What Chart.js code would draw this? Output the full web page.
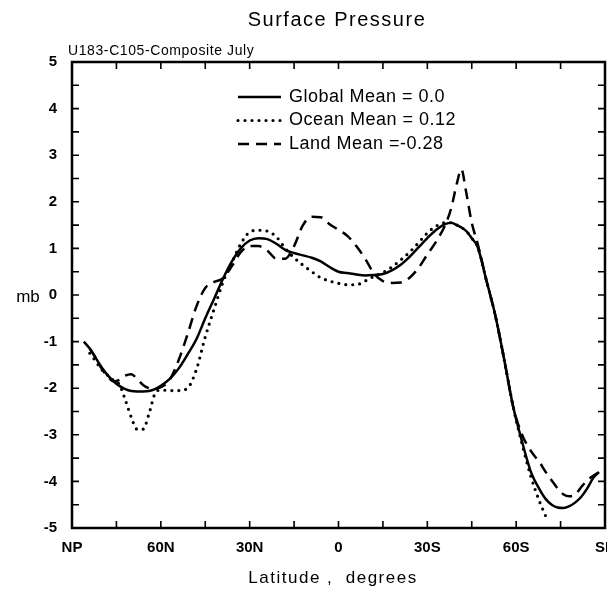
<!DOCTYPE html>
<html>
<head>
<meta charset="utf-8">
<script src="https://cdn.jsdelivr.net/npm/chart.js@4"></script>
<style>
  body { margin: 0; background: #fff; }
  #wrap { width: 607px; height: 590px; position: relative; }
</style>
</head>
<body>
<div id="wrap"><canvas id="psChart"></canvas></div>
<script>
// latitude in degrees, NP = 90, SP = -90
const latitudes = [86, 84, 82, 80, 78, 76, 74, 72, 70, 68,
  66, 64, 62, 60, 57, 54, 51, 48, 45, 42,
  39, 36, 33, 30, 27, 24, 21, 18, 15, 12,
  9, 6, 3, 0, -3, -6, -9, -12, -15, -18,
  -21, -24, -27, -30, -33, -36, -38, -40, -41.5, -43,
  -45, -47, -50, -53, -56, -59, -62, -65, -68, -70,
  -72, -74, -76, -78, -80, -82, -84, -86, -88];

const globalMean = [-1.0, -1.15, -1.35, -1.55, -1.72, -1.85, -1.95, -2.02, -2.06, -2.07,
  -2.07, -2.06, -2.02, -1.95, -1.8, -1.58, -1.28, -0.95, -0.5, -0.08,
  0.35, 0.72, 1.0, 1.17, 1.22, 1.2, 1.1, 0.97, 0.9, 0.85,
  0.8, 0.72, 0.6, 0.5, 0.47, 0.44, 0.42, 0.43, 0.45, 0.53,
  0.65, 0.82, 1.02, 1.22, 1.4, 1.52, 1.55, 1.5, 1.45, 1.38,
  1.22, 1.03, 0.3, -0.45, -1.4, -2.4, -3.15, -3.8, -4.18, -4.38,
  -4.5, -4.56, -4.57, -4.53, -4.45, -4.33, -4.15, -3.93, -3.8];

const oceanMean = [null, -1.25, -1.42, -1.6, -1.72, -1.83, -1.92, -2.25, -2.62, -2.88,
  -2.88, -2.55, -2.12, -2.04, -2.05, -2.05, -2.0, -1.6, -0.9, -0.3,
  0.28, 0.7, 1.1, 1.35, 1.39, 1.37, 1.25, 1.0, 0.8, 0.64,
  0.5, 0.37, 0.3, 0.25, 0.22, 0.22, 0.3, 0.4, 0.48, 0.6,
  0.75, 0.92, 1.12, 1.33, 1.48, 1.55, 1.55, 1.5, 1.45, 1.38,
  1.22, 1.03, 0.3, -0.45, -1.4, -2.4, -3.2, -3.9, -4.45, -4.75,
  null, null, null, null, null, null, null, null, null];

const landMean = [null, -1.15, -1.35, -1.58, -1.75, -1.85, -1.82, -1.73, -1.7, -1.8,
  -1.93, -2.0, -2.02, -1.98, -1.82, -1.4, -0.85, -0.25, 0.15, 0.28,
  0.36, 0.62, 0.92, 1.05, 1.05, 0.95, 0.78, 0.78, 1.05, 1.5,
  1.68, 1.67, 1.52, 1.4, 1.27, 1.05, 0.78, 0.46, 0.3, 0.26,
  0.27, 0.37, 0.58, 0.87, 1.15, 1.5, 1.85, 2.4, 2.7, 2.25,
  1.55, 1.1, 0.3, -0.45, -1.4, -2.4, -3.0, -3.35, -3.6, -3.8,
  -3.98, -4.15, -4.28, -4.32, -4.28, -4.12, -3.98, -3.88, -3.8];

const seriesNames = ['Global Mean = 0.0', 'Ocean Mean = 0.12', 'Land Mean =-0.28'];
const latTickLabels = { '90': 'NP', '60': '60N', '30': '30N', '0': '0', '-30': '30S', '-60': '60S', '-90': 'SP' };

const toPoints = vals => latitudes.map((lat, i) => ({ x: lat, y: vals[i] }));
const FONT = "'Liberation Sans', Arial, sans-serif";

// box, inward ticks, texts and legend
const frame = {
  id: 'frame',
  afterDraw(chart) {
    const { ctx, chartArea: a, scales: { x, y } } = chart;
    ctx.save();
    ctx.strokeStyle = '#000';
    ctx.fillStyle = '#000';
    ctx.lineWidth = 2.5;
    ctx.strokeRect(a.left, a.top, a.right - a.left, a.bottom - a.top);

    ctx.lineWidth = 1.6;
    ctx.beginPath();
    for (let v = -75; v <= 75; v += 15) {
      const px = x.getPixelForValue(v);
      ctx.moveTo(px, a.bottom); ctx.lineTo(px, a.bottom - 7);
      ctx.moveTo(px, a.top); ctx.lineTo(px, a.top + 7);
    }
    for (let v = -4.5; v <= 4.5; v += 0.5) {
      const py = y.getPixelForValue(v);
      ctx.moveTo(a.left, py); ctx.lineTo(a.left + 7, py);
      ctx.moveTo(a.right, py); ctx.lineTo(a.right - 7, py);
    }
    ctx.stroke();

    ctx.textBaseline = 'middle';
    ctx.textAlign = 'center';
    ctx.letterSpacing = '1.5px';
    ctx.font = '20px ' + FONT;
    ctx.fillText('Surface Pressure', 337, 20);
    ctx.font = '17px ' + FONT;
    ctx.fillText('Latitude ,  degrees', 333, 578);
    ctx.letterSpacing = '0px';
    ctx.fillText('mb', 28, 297);
    ctx.textAlign = 'left';
    ctx.letterSpacing = '0.6px';
    ctx.font = '14px ' + FONT;
    ctx.fillText('U183-C105-Composite July', 68, 51);

    // legend
    chart.data.datasets.forEach((ds, i) => {
      const ly = 97 + i * 23.5;
      ctx.save();
      ctx.setLineDash(ds.borderDash || []);
      ctx.lineCap = ds.borderCapStyle || 'butt';
      ctx.lineWidth = ds.borderWidth;
      ctx.beginPath();
      ctx.moveTo(238, ly); ctx.lineTo(281, ly);
      ctx.stroke();
      ctx.restore();
      ctx.font = '18px ' + FONT;
      ctx.letterSpacing = '0.5px';
      ctx.fillText(ds.label, 289, ly);
    });
    ctx.restore();
  }
};

const ctx = document.getElementById('psChart').getContext('2d');
const psChart = new Chart(ctx, {
  type: 'line',
  data: {
    datasets: [{
      label: seriesNames[0],
      data: toPoints(globalMean),
      borderColor: '#000',
      borderWidth: 2.5,
      pointRadius: 0,
      cubicInterpolationMode: 'monotone'
    }, {
      label: seriesNames[1],
      data: toPoints(oceanMean),
      borderColor: '#000',
      borderWidth: 3.2,
      borderDash: [0, 7],
      borderCapStyle: 'round',
      pointRadius: 0,
      cubicInterpolationMode: 'monotone'
    }, {
      label: seriesNames[2],
      data: toPoints(landMean),
      borderColor: '#000',
      borderWidth: 2.5,
      borderDash: [11, 7],
      pointRadius: 0,
      cubicInterpolationMode: 'monotone'
    }]
  },
  options: {
    responsive: true,
    maintainAspectRatio: false,
    animation: false,
    layout: { padding: { top: 62, left: 0, right: 2, bottom: 0 } },
    plugins: {
      legend: { display: false },
      tooltip: { enabled: false }
    },
    scales: {
      x: {
        type: 'linear',
        min: -90,
        max: 90,
        reverse: true,
        grid: { display: false, drawTicks: false },
        border: { display: false },
        ticks: {
          stepSize: 30,
          autoSkip: false,
          maxRotation: 0,
          padding: 11,
          color: '#000',
          font: { family: FONT, size: 15, weight: 'bold' },
          callback: v => latTickLabels[String(v)] ?? ''
        },
        afterFit: s => { s.height = 62; s.paddingLeft = 0; s.paddingRight = 0; }
      },
      y: {
        min: -5,
        max: 5,
        grid: { display: false, drawTicks: false },
        border: { display: false },
        ticks: {
          stepSize: 1,
          padding: 15,
          color: '#000',
          font: { family: FONT, size: 15, weight: 'bold' }
        },
        afterFit: s => { s.width = 72; s.paddingTop = 0; s.paddingBottom = 0; }
      }
    }
  },
  plugins: [frame]
});
</script>
</body>
</html>
